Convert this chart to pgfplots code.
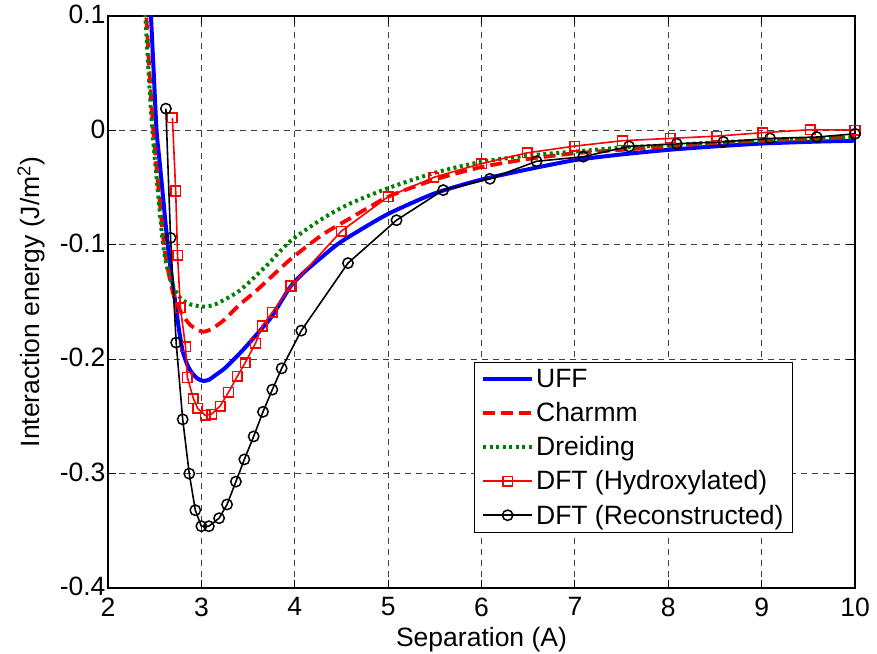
\documentclass[border=0pt]{standalone}
\usepackage{pgfplots}
\pgfplotsset{compat=1.18}
\usepackage{fontspec}
\setmainfont{Liberation Sans}
\definecolor{mgreen}{rgb}{0,0.5,0}
\newcommand{\ffont}{\fontsize{26.5bp}{30bp}\selectfont}
\begin{document}
\begin{tikzpicture}
\begin{axis}[
  name=ax,
  scale only axis,
  width=747bp, height=572bp,
  xmin=2, xmax=10, ymin=-0.4, ymax=0.1,
  xtick={2,3,4,5,6,7,8,9,10},
  ytick={-0.4,-0.3,-0.2,-0.1,0,0.1},
  yticklabels={-0.4,-0.3,-0.2,-0.1,0,0.1},
  xticklabels={2,3,4,5,6,7,8,9,10},
  tick align=inside,
  major tick length=8bp,
  tick style={black, line width=0.9bp},
  axis line style={black, line width=1.3bp},
  grid=major,
  major grid style={dash pattern=on 6bp off 5bp, black!75, line width=0.9bp},
  ticklabel style={font=\ffont},
  xticklabel style={yshift=-6bp},
  yticklabel style={xshift=1bp, yshift=1.5bp},
  label style={font=\ffont},
  xlabel={Separation (A)},
  ylabel={Interaction energy (J/m\textsuperscript{2})},
  xlabel style={yshift=-4bp},
  ylabel style={yshift=8bp},
  legend style={font=\ffont, at={(axis description cs:0.917,0.096)}, anchor=south east,
    draw=black, line width=1bp, fill=white, inner xsep=7bp, inner ysep=5bp,
    row sep=9.5bp},
  legend cell align=left,
  legend image code/.code={\draw[mark repeat=2,mark phase=2,#1] plot coordinates {(0bp,0bp) (24.5bp,0bp) (49bp,0bp)};},
]
% UFF
\addplot[blue, line width=4bp, smooth, tension=0.4] coordinates {
(2.44,0.133) (2.46,0.1) (2.49,0.05) (2.52,0.0) (2.55,-0.025) (2.58,-0.05) (2.61,-0.076)
(2.64,-0.10) (2.68,-0.127) (2.72,-0.15) (2.76,-0.174) (2.80,-0.193) (2.85,-0.205)
(2.90,-0.212) (2.96,-0.217) (3.02,-0.219) (3.08,-0.218) (3.15,-0.214) (3.25,-0.208)
(3.35,-0.200) (3.41,-0.195) (3.5,-0.187) (3.66,-0.172) (3.76,-0.162) (3.95,-0.137)
(4.1,-0.124) (4.3,-0.110) (4.45,-0.100) (4.6,-0.092) (5.0,-0.073) (5.5,-0.055)
(6.0,-0.043) (6.5,-0.034) (7.0,-0.026) (7.5,-0.021) (8.0,-0.017) (8.5,-0.014)
(9.0,-0.0115) (9.5,-0.010) (10,-0.009)
};
\addlegendentry{UFF}
% Charmm
\addplot[red, line width=3.8bp, dash pattern=on 12bp off 6bp, smooth, tension=0.4] coordinates {
(2.38,0.13) (2.41,0.1) (2.445,0.05) (2.485,0.0) (2.54,-0.05) (2.60,-0.10) (2.65,-0.125)
(2.70,-0.143) (2.77,-0.157) (2.83,-0.165) (2.88,-0.170) (2.95,-0.174) (3.02,-0.176)
(3.1,-0.174) (3.24,-0.166) (3.4,-0.153) (3.59,-0.140) (3.95,-0.113) (4.3,-0.091)
(4.59,-0.077) (5.0,-0.058) (5.5,-0.043) (6.0,-0.032) (6.5,-0.025) (7.0,-0.020)
(7.5,-0.017) (8.0,-0.014) (8.5,-0.011) (9.0,-0.009) (9.5,-0.0075) (10,-0.006)
};
\addlegendentry{Charmm}
% Dreiding
\addplot[mgreen, line width=4bp, dash pattern=on 3bp off 3.5bp, smooth, tension=0.4] coordinates {
(2.37,0.13) (2.40,0.1) (2.435,0.05) (2.475,0.0) (2.53,-0.05) (2.59,-0.10) (2.64,-0.122)
(2.70,-0.137) (2.78,-0.147) (2.88,-0.152) (3.02,-0.154) (3.15,-0.152) (3.41,-0.140)
(3.7,-0.118) (3.95,-0.097) (4.3,-0.077) (4.59,-0.064) (5.0,-0.0505) (5.5,-0.037)
(6.0,-0.0275) (6.5,-0.022) (7.0,-0.0185) (7.5,-0.015) (8.0,-0.013) (8.5,-0.0105)
(9.0,-0.009) (9.5,-0.0075) (10,-0.006)
};
\addlegendentry{Dreiding}
% DFT Hydroxylated
\addplot[red, line width=1.6bp, mark=square, mark size=4.8bp, mark options={solid, line width=1.5bp}] coordinates {
(2.69,0.011) (2.725,-0.053) (2.745,-0.109) (2.775,-0.155) (2.83,-0.189) (2.85,-0.216)
(2.915,-0.2345) (2.96,-0.243) (3.04,-0.249) (3.11,-0.248) (3.20,-0.241) (3.29,-0.229)
(3.385,-0.215) (3.47,-0.203) (3.58,-0.186) (3.65,-0.171) (3.76,-0.159) (3.96,-0.136)
(4.50,-0.088) (5.00,-0.058) (5.49,-0.041) (6.00,-0.029) (6.49,-0.0196) (7.00,-0.0137)
(7.51,-0.009) (8.02,-0.007) (8.52,-0.005) (9.01,-0.002) (9.52,0.0006) (10.0,0.0003)
};
\addlegendentry{DFT (Hydroxylated)}
% DFT Reconstructed
\addplot[black, line width=1.6bp, mark=o, mark size=5.2bp, mark options={solid, line width=1.5bp}] coordinates {
(2.62,0.019) (2.67,-0.094) (2.73,-0.1855) (2.80,-0.2526) (2.87,-0.300) (2.935,-0.332)
(3.00,-0.346) (3.08,-0.346) (3.19,-0.339) (3.275,-0.327) (3.37,-0.307) (3.46,-0.2876)
(3.56,-0.2675) (3.66,-0.246) (3.76,-0.2266) (3.86,-0.208) (4.07,-0.175) (4.57,-0.116)
(5.09,-0.0785) (5.59,-0.0522) (6.09,-0.0423) (6.59,-0.027) (7.09,-0.023) (7.58,-0.014)
(8.09,-0.0117) (8.59,-0.010) (9.09,-0.007) (9.59,-0.0058) (10.0,-0.003)
};
\addlegendentry{DFT (Reconstructed)}
\end{axis}
\pgfresetboundingbox
\path[use as bounding box] ([shift={(-108bp,-65bp)}]ax.south west) rectangle ([shift={(22bp,16bp)}]ax.north east);
\end{tikzpicture}
\end{document}
